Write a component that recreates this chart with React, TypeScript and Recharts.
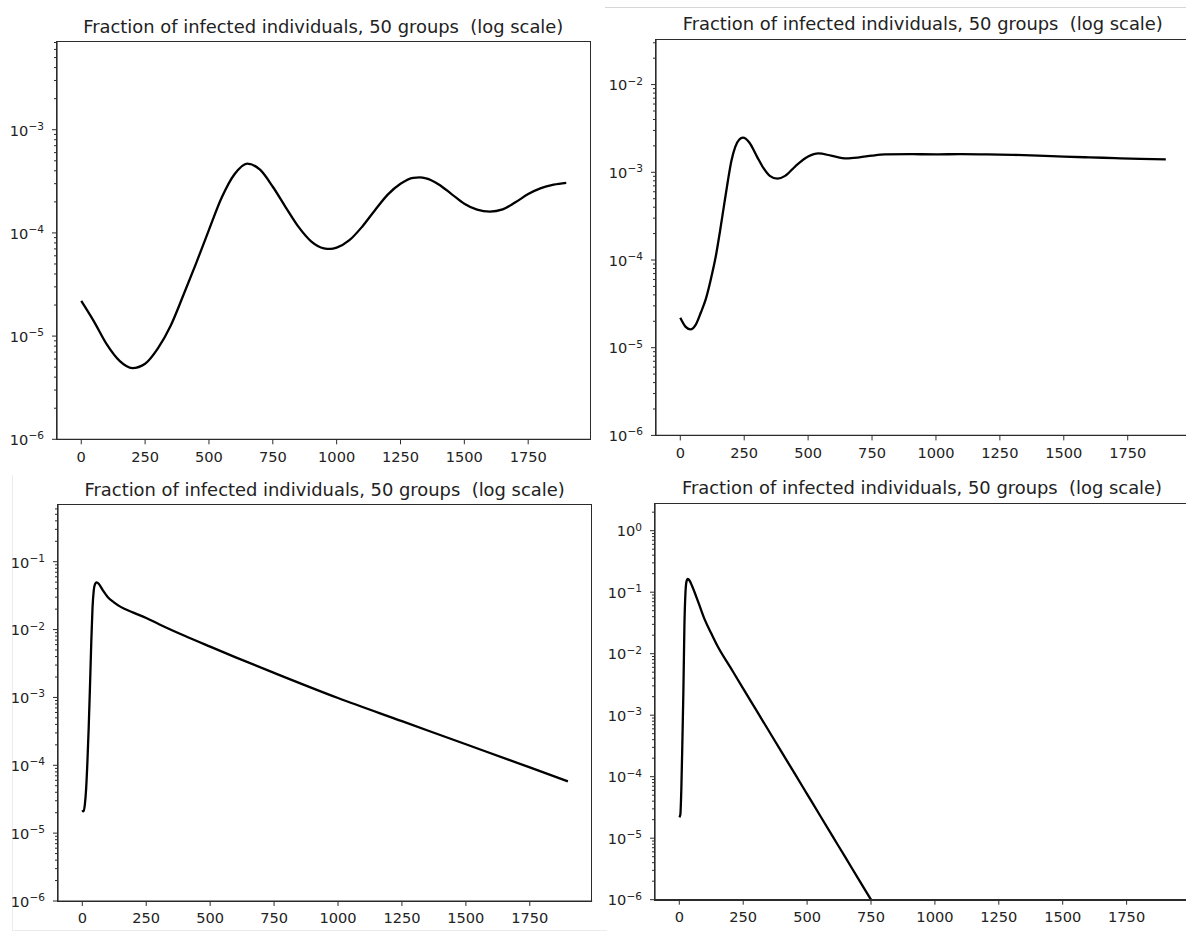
import React from 'react';
import { LineChart, Line, XAxis, YAxis } from 'recharts';

const TITLE = 'Fraction of infected individuals, 50 groups  (log scale)';
const X_TICKS = [0, 250, 500, 750, 1000, 1250, 1500, 1750];
const X_DOMAIN: [number, number] = [-95, 1994];
const MINOR_STEPS = [2, 3, 4, 5, 6, 7, 8, 9];

// run A: slow damped oscillation
const A_T = [0, 50, 100, 150, 200, 250, 300, 350, 400, 450, 500, 550, 600, 650, 700, 750, 800, 850, 900, 950, 975, 1000, 1050, 1100, 1150, 1200, 1250, 1300, 1325, 1350, 1400, 1450, 1500, 1550, 1600, 1650, 1700, 1750, 1800, 1850, 1899];
const A_I = [2.19e-5, 1.38e-5, 8.3e-6, 5.75e-6, 4.9e-6, 5.4e-6, 7.6e-6, 1.26e-5, 2.5e-5, 5.1e-5, 1.07e-4, 2.2e-4, 3.7e-4, 4.7e-4, 4.1e-4, 2.8e-4, 1.78e-4, 1.15e-4, 8.3e-5, 7.1e-5, 7.0e-5, 7.2e-5, 8.5e-5, 1.15e-4, 1.66e-4, 2.35e-4, 3.0e-4, 3.42e-4, 3.45e-4, 3.38e-4, 2.95e-4, 2.38e-4, 1.92e-4, 1.68e-4, 1.61e-4, 1.69e-4, 1.98e-4, 2.38e-4, 2.72e-4, 2.93e-4, 3.05e-4];
const A_MAJOR = [1e-6, 1e-5, 1e-4, 1e-3];

// run B: quick rise, settles near 1.5e-3
const B_T = [0, 20, 40, 60, 80, 100, 125, 140, 155, 170, 185, 200, 215, 230, 245, 270, 300, 325, 350, 380, 410, 450, 500, 540, 590, 650, 700, 750, 800, 900, 1000, 1100, 1200, 1300, 1400, 1500, 1600, 1700, 1800, 1899];
const B_I = [2.19e-5, 1.74e-5, 1.62e-5, 1.82e-5, 2.5e-5, 3.6e-5, 7.1e-5, 1.15e-4, 2.1e-4, 4.0e-4, 7.6e-4, 1.35e-3, 1.95e-3, 2.35e-3, 2.48e-3, 2.19e-3, 1.51e-3, 1.12e-3, 9.1e-4, 8.45e-4, 9.1e-4, 1.17e-3, 1.51e-3, 1.64e-3, 1.55e-3, 1.44e-3, 1.48e-3, 1.55e-3, 1.6e-3, 1.61e-3, 1.6e-3, 1.61e-3, 1.6e-3, 1.58e-3, 1.55e-3, 1.51e-3, 1.48e-3, 1.45e-3, 1.42e-3, 1.4e-3];
const B_MAJOR = [1e-6, 1e-5, 1e-4, 1e-3, 1e-2];

// run C: sharp outbreak, slow decay
const C_T = [0, 5, 10, 15, 20, 25, 30, 35, 40, 45, 50, 56, 65, 80, 100, 125, 150, 200, 250, 300, 400, 500, 600, 750, 1000, 1250, 1500, 1750, 1899];
const C_I = [2.19e-5, 2.09e-5, 2.63e-5, 4.5e-5, 1.12e-4, 3.55e-4, 1.41e-3, 6.3e-3, 2.1e-2, 3.8e-2, 4.7e-2, 4.95e-2, 4.7e-2, 3.8e-2, 3.0e-2, 2.5e-2, 2.16e-2, 1.78e-2, 1.48e-2, 1.2e-2, 8.1e-3, 5.6e-3, 3.9e-3, 2.3e-3, 9.8e-4, 4.47e-4, 2.04e-4, 9.3e-5, 5.8e-5];
const C_MAJOR = [1e-6, 1e-5, 1e-4, 1e-3, 1e-2, 1e-1];

// run D: sharp outbreak, fast extinction
const D_T = [0, 4, 8, 12, 16, 20, 24, 28, 33, 40, 50, 75, 100, 125, 150, 200, 250, 300, 350, 400, 450, 500, 550, 600, 650, 700, 750, 800];
const D_I = [2.19e-5, 2.4e-5, 6.3e-5, 3.55e-4, 2.4e-3, 2.8e-2, 9.5e-2, 0.148, 0.164, 0.155, 0.126, 0.0676, 0.0355, 0.0214, 0.0132, 5.98e-3, 2.71e-3, 1.23e-3, 5.58e-4, 2.53e-4, 1.15e-4, 5.21e-5, 2.36e-5, 1.07e-5, 4.86e-6, 2.2e-6, 1.0e-6, 4.54e-7];
const D_MAJOR = [1e-6, 1e-5, 1e-4, 1e-3, 1e-2, 1e-1, 1];

const FONT = '"DejaVu Sans", sans-serif';
const INK = '#222';
const FRAME = '#2b2b2b';
const Y_W = 60;
const X_H = 32;
const PAD = 4;

type Rect = { left: number; top: number; right: number; bottom: number };

const toRows = (t: number[], v: number[]) => t.map((x, i) => ({ x, y: v[i] }));

const withMinors = (majors: number[], top: number) => {
  const out = [...majors];
  majors.forEach(m => {
    MINOR_STEPS.forEach(k => {
      if (m * k <= top) out.push(m * k);
    });
  });
  return out;
};

const LogTick = (props: any) => {
  const { x, y, payload, majors } = props;
  const v = payload.value;
  const isMajor = majors.some((m: number) => Math.abs(m - v) / m < 1e-6);
  const len = isMajor ? 5 : 3;
  const exp = Math.round(Math.log10(v));
  const sup = exp < 0 ? `\u2212${-exp}` : `${exp}`;
  return (
    <g>
      <line x1={x} x2={x - len} y1={y} y2={y} stroke={FRAME} strokeWidth={1} />
      {isMajor && (
        <text x={x - 13} y={y + 5.8} textAnchor="end" fontFamily={FONT} fontSize={14.6} fill={INK}>
          <tspan>10</tspan>
          <tspan fontSize={10.6} dy={-5.8}>{sup}</tspan>
        </text>
      )}
    </g>
  );
};

interface PanelProps {
  plot: Rect;
  t: number[];
  v: number[];
  yTop: number;
  majors: number[];
}

const Panel: React.FC<PanelProps> = ({ plot, t, v, yTop, majors }) => {
  const w = plot.right - plot.left;
  const h = plot.bottom - plot.top;
  const data = toRows(t, v);
  const ticks = withMinors(majors, yTop);

  return (
    <>
      <div
        style={{
          position: 'absolute',
          left: plot.left + w / 2 - 300,
          top: plot.top - 25,
          width: 600,
          lineHeight: '20px',
          textAlign: 'center',
          whiteSpace: 'pre',
          fontFamily: FONT,
          fontSize: 17.9,
          color: INK,
        }}
      >
        {TITLE}
      </div>
      <div style={{ position: 'absolute', left: plot.left - Y_W, top: plot.top - PAD }}>
        <LineChart
          width={Y_W + w + PAD}
          height={PAD + h + X_H}
          data={data}
          margin={{ top: PAD, right: PAD, bottom: 0, left: 0 }}
        >
          <XAxis
            dataKey="x"
            type="number"
            domain={X_DOMAIN}
            allowDataOverflow
            ticks={X_TICKS}
            interval={0}
            height={X_H}
            tickSize={5}
            tickMargin={7}
            stroke={FRAME}
            axisLine={{ stroke: FRAME, strokeWidth: 1.2 }}
            tickLine={{ stroke: FRAME, strokeWidth: 1 }}
            tick={{ fontFamily: FONT, fontSize: 14.6, fill: INK }}
          />
          <YAxis
            scale="log"
            type="number"
            domain={[1e-6, yTop]}
            allowDataOverflow
            ticks={ticks}
            interval={0}
            width={Y_W}
            tickSize={0}
            tickMargin={0}
            tickLine={false}
            axisLine={{ stroke: FRAME, strokeWidth: 1.2 }}
            tick={(p: any) => <LogTick {...p} majors={majors} />}
          />
          <Line
            type="monotone"
            dataKey="y"
            stroke="#000"
            strokeWidth={2.3}
            dot={false}
            activeDot={false}
            isAnimationActive={false}
          />
        </LineChart>
      </div>
      {/* axes box */}
      <div
        style={{
          position: 'absolute',
          left: plot.left - 0.6,
          top: plot.top - 0.6,
          width: w + 1.2,
          height: h + 1.2,
          border: `1.2px solid ${FRAME}`,
          boxSizing: 'border-box',
          pointerEvents: 'none',
        }}
      />
    </>
  );
};

export default function App() {
  return (
    <div
      style={{
        position: 'absolute',
        left: 0,
        top: 0,
        width: 1186,
        height: 931,
        overflow: 'hidden',
        background: '#fff',
      }}
    >
      {/* thin separators around the panels */}
      <div style={{ position: 'absolute', left: 605, top: 6.5, width: 581, height: 1, background: '#d6d6d6' }} />
      <div style={{ position: 'absolute', left: 12, top: 475, width: 1, height: 456, background: '#ececec' }} />
      <div style={{ position: 'absolute', left: 12, top: 930, width: 595, height: 1, background: '#ececec' }} />

      <Panel plot={{ left: 56.5, top: 41.7, right: 590, bottom: 439 }} t={A_T} v={A_I} yTop={7.08e-3} majors={A_MAJOR} />
      <Panel plot={{ left: 655.7, top: 39.3, right: 1189.8, bottom: 435.7 }} t={B_T} v={B_I} yTop={0.0331} majors={B_MAJOR} />
      <Panel plot={{ left: 57.5, top: 505, right: 591.7, bottom: 901 }} t={C_T} v={C_I} yTop={0.685} majors={C_MAJOR} />
      <Panel plot={{ left: 655, top: 503.3, right: 1189, bottom: 900 }} t={D_T} v={D_I} yTop={2.82} majors={D_MAJOR} />
    </div>
  );
}
